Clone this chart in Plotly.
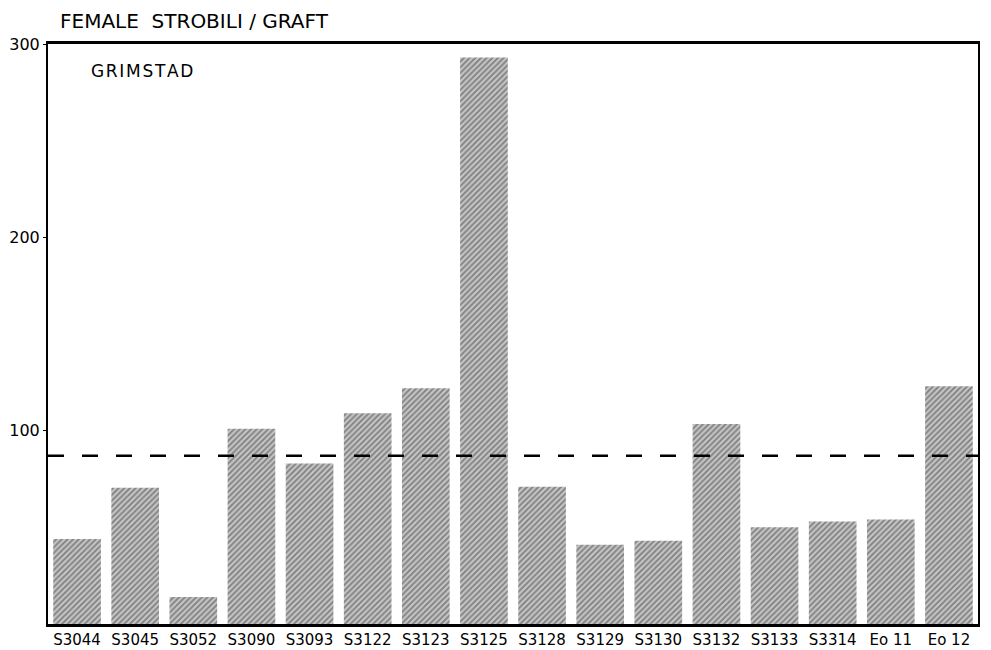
import plotly.graph_objects as go

clones = ["S3044", "S3045", "S3052", "S3090", "S3093", "S3122", "S3123", "S3125",
          "S3128", "S3129", "S3130", "S3132", "S3133", "S3314", "Eo 11", "Eo 12"]
strobili = [44, 70.5, 14, 101, 83, 109, 122, 293, 71, 41, 43, 103.5, 50, 53, 54, 123]
mean_level = 87
y_ticks = [100, 200, 300]

FONT = "DejaVu Sans"

fig = go.Figure()
fig.add_trace(go.Bar(
    x=clones,
    y=strobili,
    marker=dict(
        color="#c4c4c4",
        line=dict(width=0),
        pattern=dict(shape="/", fgcolor="#3a3a3a", bgcolor="#c4c4c4",
                     size=4, solidity=0.45),
    ),
    showlegend=False,
))

# dashed mean line across the whole frame
fig.add_shape(type="line", xref="paper", yref="y", x0=0, x1=1,
              y0=mean_level, y1=mean_level,
              line=dict(color="black", width=2.5, dash="16px,18px"))

fig.add_annotation(text="FEMALE  STROBILI / GRAFT", xref="paper", yref="paper",
                   x=0.011, y=1.0, yshift=23, xanchor="left", yanchor="middle",
                   showarrow=False, font=dict(family=FONT, size=20, color="black"))
fig.add_annotation(text="G R I M S T A D".replace(" ", "\u200a"), xref="paper", yref="paper",
                   x=0.044, y=0.953, xanchor="left", yanchor="middle",
                   showarrow=False, font=dict(family=FONT, size=17, color="black"))

# the page body adds an 8px offset, so margins are set to compensate
fig.update_layout(
    width=991, height=650,
    margin=dict(l=40, r=21, t=36, b=34),
    plot_bgcolor="white", paper_bgcolor="white",
    bargap=0.18,
    font=dict(family=FONT, color="black"),
)
fig.update_xaxes(showline=True, linecolor="black", linewidth=3, mirror=True,
                 ticks="", showgrid=False, tickfont=dict(size=15),
                 automargin=False, range=[-0.5, len(clones) - 0.5])
fig.update_yaxes(range=[0, 300], tickvals=y_ticks, showline=True, linecolor="black",
                 linewidth=2, mirror=True, ticks="outside", ticklen=3,
                 tickcolor="black", showgrid=False, zeroline=False,
                 automargin=False, tickfont=dict(size=16))

fig.write_html("out.html")
